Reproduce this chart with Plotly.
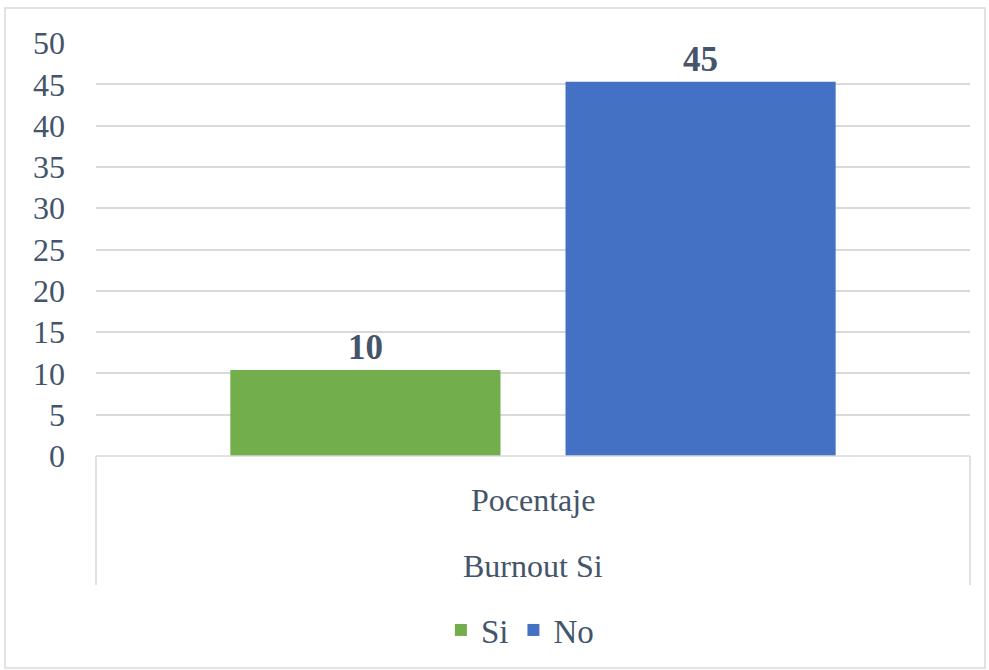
import plotly.graph_objects as go

# Data
outer_cat = ["Burnout Si"]
inner_cat = ["Pocentaje"]
series_names = ["Si", "No"]
series_values = [[10.4], [45.3]]
series_colors = ["#72AE4B", "#4571C4"]
y_ticks = [0, 5, 10, 15, 20, 25, 30, 35, 40, 45, 50]

W, H = 989, 670
ml, mr, mt, mb = 96, 19, 43, 214
pw, ph = W - ml - mr, H - mt - mb
txt = "#44546A"
serif = "Liberation Serif"

fig = go.Figure()
for name, vals, col in zip(series_names, series_values, series_colors):
    fig.add_trace(go.Bar(
        name=name,
        x=outer_cat,
        y=vals,
        marker=dict(color=col, line=dict(width=0)),
        texttemplate="%{y:.0f}",
        textposition="outside",
        textfont=dict(family=serif, size=35, color=txt, weight="bold"),
        cliponaxis=False,
    ))

def px(x):
    return (x - ml) / pw

def py(y):
    return (H - mb - y) / ph

annotations = [
    dict(text=inner_cat[0], xref="paper", yref="paper", x=0.5, y=py(500),
         xanchor="center", yanchor="middle", showarrow=False,
         font=dict(family=serif, size=32, color=txt)),
    dict(text=outer_cat[0], xref="paper", yref="paper", x=0.5, y=py(566),
         xanchor="center", yanchor="middle", showarrow=False,
         font=dict(family=serif, size=32, color=txt)),
]

fig.update_layout(
    width=W, height=H,
    margin=dict(l=ml, r=mr, t=mt, b=mb),
    paper_bgcolor="white", plot_bgcolor="white",
    barmode="group", bargap=0.233, bargroupgap=0.194,
    font=dict(family=serif, color=txt, size=26),
    showlegend=True,
    legend=dict(orientation="h", x=0.485, xanchor="center", y=py(630), yanchor="middle",
                font=dict(family=serif, size=33, color=txt), itemwidth=30,
                traceorder="normal"),
    xaxis=dict(showgrid=False, showline=False, ticks="", showticklabels=False,
               automargin=False),
    yaxis=dict(range=[0, 50], tickvals=y_ticks, showgrid=True, gridcolor="#D9D9D9",
               gridwidth=1.5, zeroline=False, showline=False, ticks="",
               ticklabelstandoff=30, automargin=False,
               tickfont=dict(family=serif, size=32, color=txt)),
    annotations=annotations,
    shapes=[
        dict(type="line", xref="paper", yref="paper", x0=0, x1=1, y0=0, y1=0,
             line=dict(color="#D9D9D9", width=1.5)),
        dict(type="line", xref="paper", yref="paper", x0=0, x1=0, y0=0, y1=py(585),
             line=dict(color="#D9D9D9", width=1.5)),
        dict(type="line", xref="paper", yref="paper", x0=1, x1=1, y0=0, y1=py(585),
             line=dict(color="#D9D9D9", width=1.5)),
        dict(type="rect", xref="paper", yref="paper", x0=px(5), x1=px(985),
             y0=py(668), y1=py(8), line=dict(color="#D9D9D9", width=1.5),
             layer="below"),
    ],
)

fig.write_html("out.html", config={"displayModeBar": False},
               post_script="document.body.style.margin='0';document.body.style.overflow='hidden';")
